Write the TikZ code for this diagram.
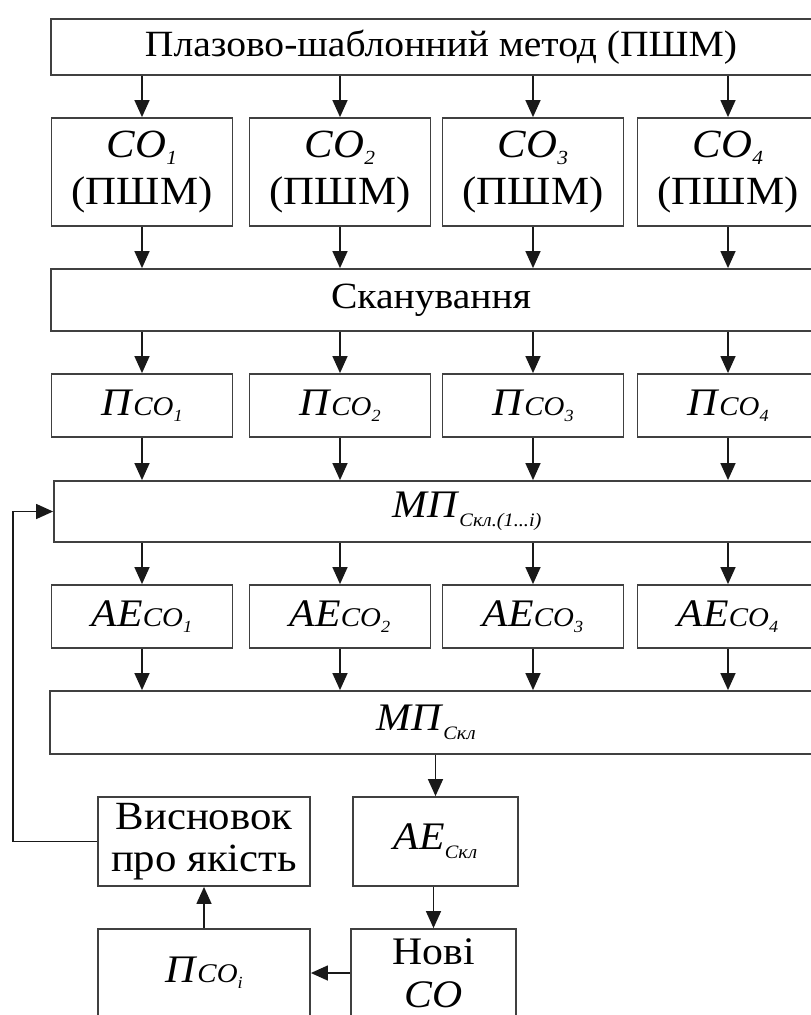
\documentclass[tikz,border=0pt]{standalone}
\usepackage{fontspec}
\setmainfont{Liberation Serif}[FakeStretch=1.07]
\usetikzlibrary{arrows.meta}
\newcommand\COn[1]{\textit{СО}\raisebox{-7pt}{\fontsize{20}{20}\selectfont\textit{#1}}}
\newcommand\Pco[1]{\textit{П}{\fontsize{27}{27}\selectfont\textit{СО}\raisebox{-6pt}{\fontsize{17}{17}\selectfont\textit{#1}}}}
\newcommand\AEco[1]{\textit{АЕ}{\fontsize{27}{27}\selectfont\textit{СО}\raisebox{-6pt}{\fontsize{17}{17}\selectfont\textit{#1}}}}
\newcommand\Skl[1]{\raisebox{-9pt}{\fontsize{19}{19}\selectfont\textit{#1}}}
\tikzset{
  box/.style={draw=black!75, line width=1.8pt, inner sep=0pt, align=center, fill=white,
    font=\fontsize{39}{44}\selectfont},
  wide/.style={box},
  arr/.style={draw=black!90, line width=1.4pt, -{Triangle[length=17pt,width=15pt]}},
}
\begin{document}
\begin{tikzpicture}[x=1pt,y=-1pt]
\useasboundingbox (0,0) rectangle (811,1015);
\node[wide, minimum width=790, minimum height=56, label={[font=\fontsize{37}{40}\selectfont]center:\hspace*{-10pt}Плазово-шаблонний метод (ПШМ)}] (top) at (446,47) {};
\foreach \i/\x in {1/142,2/340,3/533,4/728} {
  \node[box, minimum width=181, minimum height=108, font=\fontsize{40}{47}\selectfont] (co\i) at (\x,172) {\COn{\i}\\(ПШМ)};
  \node[box, minimum width=181, minimum height=63] (p\i) at (\x,405.5) {\Pco{\i}};
  \node[box, minimum width=181, minimum height=63] (ae\i) at (\x,616.5) {\AEco{\i}};
}
\node[wide, minimum width=790, minimum height=62, label={[font=\fontsize{37}{40}\selectfont]center:\hspace*{-30pt}Сканування}] (scan) at (446,300) {};
\node[wide, minimum width=790, minimum height=61, label={[font=\fontsize{39}{40}\selectfont]center:\hspace*{36pt}\textit{МП}\Skl{Скл.(1...i)}}] (mp1) at (449,511.5) {};
\node[wide, minimum width=790, minimum height=63, label={[font=\fontsize{39}{40}\selectfont]center:\hspace*{-38pt}\textit{МП}\Skl{Скл}}] (mp) at (445,722.5) {};
\node[box, minimum width=212, minimum height=89, font=\fontsize{40}{42}\selectfont] (visn) at (204,841.5) {Висновок\\про якість};
\node[box, minimum width=165, minimum height=89] (aes) at (435.5,841.5) {\textit{АЕ}\Skl{Скл}};
\node[box, minimum width=212, minimum height=88] (pci) at (204,973) {\Pco{i}};
\node[box, minimum width=165, minimum height=88, font=\fontsize{39}{43}\selectfont] (novi) at (433.5,973) {Нові\\\textit{СО}};
\foreach \i in {1,...,4} {
  \draw[arr] (top.south -| co\i) -- (co\i.north);
  \draw[arr] (co\i.south) -- (scan.north -| co\i);
  \draw[arr] (scan.south -| p\i) -- (p\i.north);
  \draw[arr] (p\i.south) -- (mp1.north -| p\i);
  \draw[arr] (mp1.south -| ae\i) -- (ae\i.north);
  \draw[arr] (ae\i.south) -- (mp.north -| ae\i);
}
\draw[arr] (mp.south -| aes) -- (aes.north);
\draw[arr] (aes.south -| novi) -- (novi.north);
\draw[arr] (novi.west) -- (pci.east |- novi.west);
\draw[arr] (pci.north) -- (visn.south);
\coordinate (loop) at (13,700);
\draw[arr] (visn.west) -- (visn.west -| loop) -- (mp1.west -| loop) -- (mp1.west);
\end{tikzpicture}
\end{document}
